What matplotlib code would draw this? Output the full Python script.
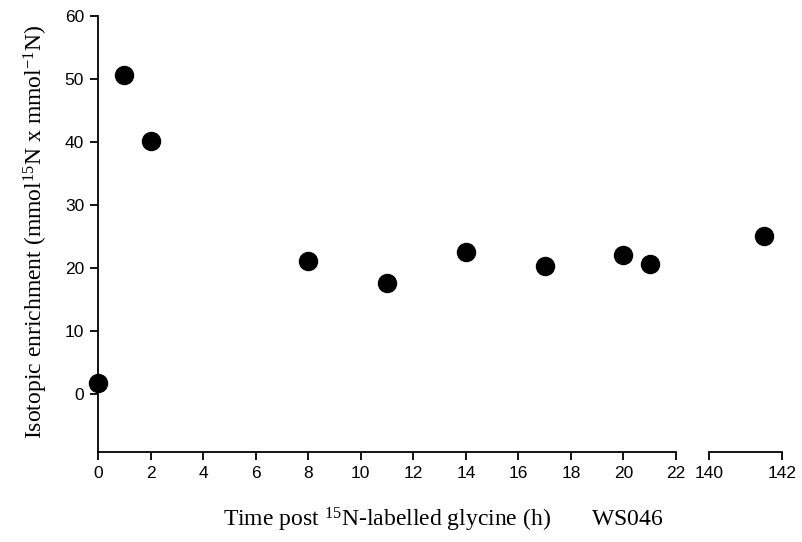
import matplotlib
matplotlib.use("Agg")
import matplotlib.pyplot as plt

plt.rcParams['mathtext.fontset'] = 'custom'
plt.rcParams['mathtext.rm'] = 'Liberation Serif'
plt.rcParams['mathtext.it'] = 'Liberation Serif:italic'

x_main = [0, 1, 2, 8, 11, 14, 17, 20, 21]
y_main = [1.8, 50.7, 40.2, 21.1, 17.6, 22.5, 20.3, 22.1, 20.6]
x_late = [141.5]
y_late = [25.1]
xticks_main = list(range(0, 23, 2))
xticks_late = [140, 142]
yticks = [0, 10, 20, 30, 40, 50, 60]

fig = plt.figure(figsize=(8.03, 5.42), dpi=100)
ax1 = fig.add_axes([98/803, 1-452/542, (676-98)/803, (452-16)/542])
ax2 = fig.add_axes([709/803, 1-452/542, (782-709)/803, (452-16)/542])

tickfont = dict(family='Liberation Sans', size=12.5)
for ax in (ax1, ax2):
    ax.set_ylim(-9.2, 60)
    ax.spines['top'].set_visible(False)
    ax.spines['right'].set_visible(False)
    ax.spines['bottom'].set_linewidth(1.3)
    ax.spines['left'].set_linewidth(1.3)
    ax.tick_params(direction='out', length=6, width=1.3, colors='black', pad=4)
    ax.patch.set_alpha(0)

ax1.plot(x_main, y_main, 'o', color='black', markersize=13, clip_on=False, zorder=5)
ax1.set_xlim(0, 22)
ax1.set_xticks(xticks_main)
ax1.set_xticklabels([str(v) for v in xticks_main], **tickfont)
ax1.set_yticks(yticks)
ax1.set_yticklabels([str(v) for v in yticks], **tickfont)

ax2.plot(x_late, y_late, 'o', color='black', markersize=13, clip_on=False, zorder=5)
ax2.set_xlim(140, 142)
ax2.set_xticks(xticks_late)
ax2.set_xticklabels([str(v) for v in xticks_late], **tickfont)
ax2.spines['left'].set_visible(False)
ax2.set_yticks([])

fig.text(443/803, 1-520/542, r'Time post $^{15}$N-labelled glycine (h)       WS046',
         ha='center', va='center', family='Liberation Serif', size=17)
fig.text(36/803, 1-232/542, r'Isotopic enrichment (mmol$^{15}$N x mmol$^{-1}$N)',
         ha='center', va='center', rotation=90, family='Liberation Serif', size=17)

fig.savefig('out.png', dpi=100)
